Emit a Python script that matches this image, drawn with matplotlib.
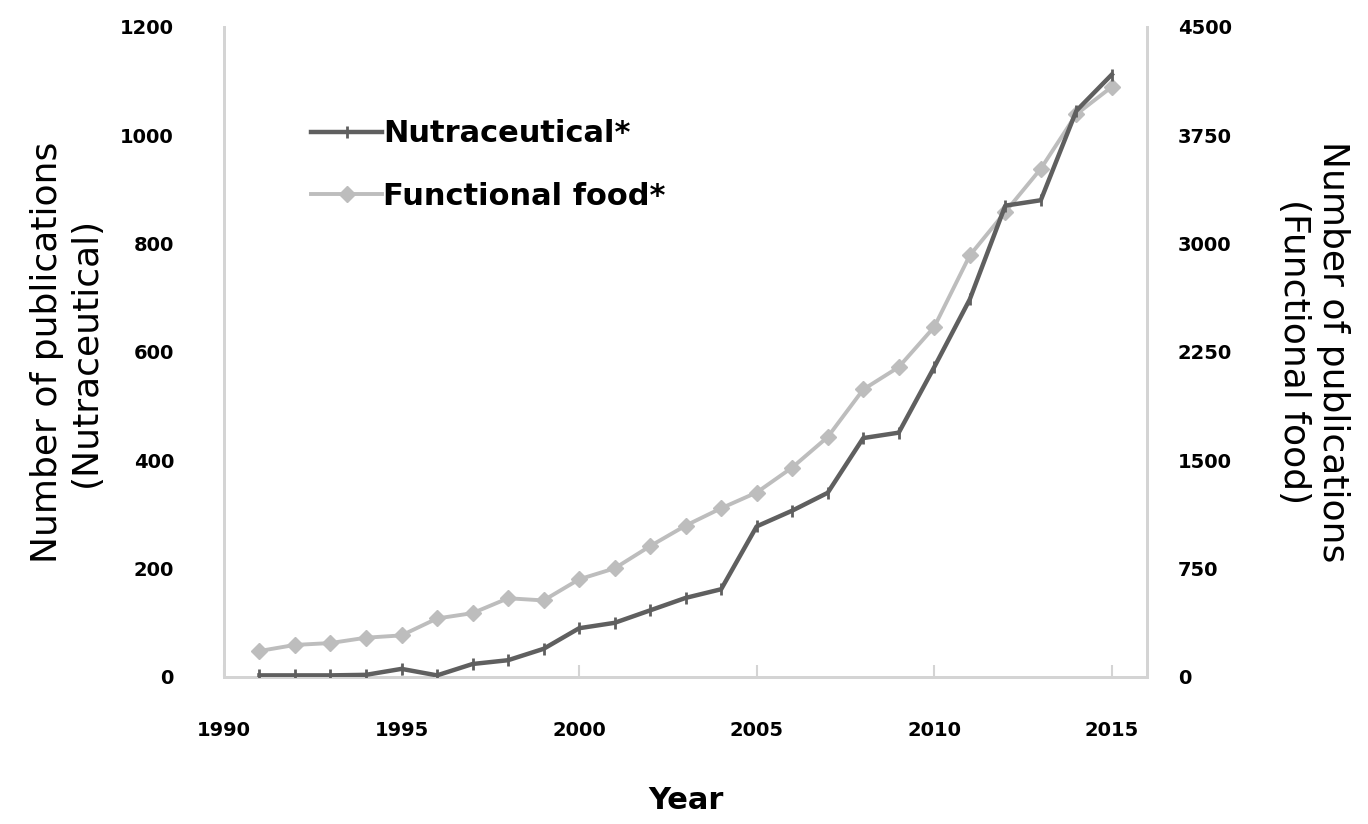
import matplotlib.pyplot as plt

years = list(range(1991, 2016))
nutraceutical = [3, 3, 3, 4, 15, 3, 24, 31, 52, 90, 100, 123, 146, 162, 278, 307, 340, 441, 451, 572, 697, 870, 880, 1045, 1112]
functional_food = [180, 222, 235, 272, 288, 405, 442, 545, 530, 676, 752, 906, 1048, 1168, 1277, 1450, 1661, 1990, 2145, 2423, 2918, 3219, 3518, 3895, 4085]

left_ticks = [0, 200, 400, 600, 800, 1000, 1200]
right_ticks = [0, 750, 1500, 2250, 3000, 3750, 4500]
x_ticks = [1990, 1995, 2000, 2005, 2010, 2015]

spine_col = "#d4d4d4"

fig = plt.figure(figsize=(13.68, 8.24), dpi=100)
ax = fig.add_axes([0.1637, 0.1784, 0.675, 0.789])
ax2 = ax.twinx()

l1, = ax.plot(years, nutraceutical, color="#5f5f5f", lw=3.2, marker="|",
              markersize=8, markeredgewidth=2, label="Nutraceutical*", zorder=3)
l2, = ax2.plot(years, functional_food, color="#bdbdbd", lw=2.8, marker="D",
               markersize=8, label="Functional food*", zorder=2)
ax.set_zorder(ax2.get_zorder() + 1)
ax.patch.set_visible(False)

ax.set_xlim(1990, 2016)
ax.set_ylim(0, 1200)
ax2.set_ylim(0, 4500)
ax.set_xticks(x_ticks)
ax.set_yticks(left_ticks)
ax2.set_yticks(right_ticks)

for a in (ax, ax2):
    a.spines["top"].set_visible(False)
    for s in ("left", "right", "bottom"):
        a.spines[s].set_color(spine_col)
        a.spines[s].set_linewidth(2)

ax.tick_params(axis="x", direction="in", length=9, width=1.5, color=spine_col,
               labelsize=14, pad=32)
ax.tick_params(axis="y", length=0, labelsize=14, pad=36)
ax2.tick_params(axis="y", length=0, labelsize=14, pad=22)
for lab in ax.get_xticklabels() + ax.get_yticklabels() + ax2.get_yticklabels():
    lab.set_fontweight("bold")

ax.set_xlabel("Year", fontsize=22, fontweight="bold", labelpad=33)
ax.set_ylabel("Number of publications\n(Nutraceutical)", fontsize=26, labelpad=12)
ax2.set_ylabel("Number of publications\n(Functional food)", fontsize=26,
               rotation=270, labelpad=85)

ax.legend(handles=[l1, l2], loc="upper left", bbox_to_anchor=(0.065, 0.9),
          frameon=False, handlelength=2.3, labelspacing=1.1,
          prop={"size": 22, "weight": "bold"}, handletextpad=0.05)

fig.savefig("out.png", dpi=100)
